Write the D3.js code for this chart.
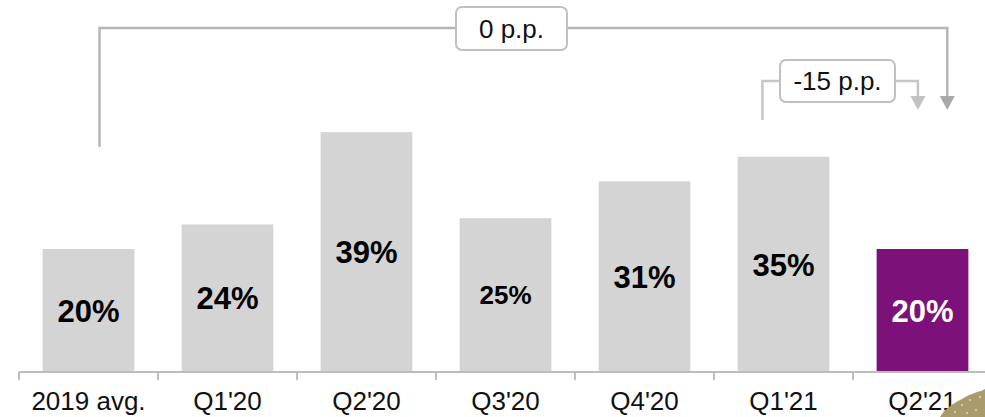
<!DOCTYPE html>
<html>
<head>
<meta charset="utf-8">
<script src="https://cdn.jsdelivr.net/npm/d3@7"></script>
<style>
  html, body { margin: 0; padding: 0; background: #ffffff; }
  svg { display: block; font-family: "Liberation Sans", Arial, sans-serif; }
</style>
</head>
<body>
<svg id="chart" width="985" height="417"></svg>
<script>
// Share by period
const categories = ["2019 avg.", "Q1'20", "Q2'20", "Q3'20", "Q4'20", "Q1'21", "Q2'21"];
const values = [20, 24, 39, 25, 31, 35, 20];
const valueLabels = ["20%", "24%", "39%", "25%", "31%", "35%", "20%"];
const highlight = "Q2'21";

// Change annotations
const changeLabels = ["0 p.p.", "-15 p.p."];

const svg = d3.select("#chart");

const x = d3.scaleBand()
  .domain(categories)
  .range([19, 992])
  .paddingInner(0.34)
  .paddingOuter(0.17);

const y = d3.scaleLinear().domain([0, 60]).range([372, 3]);

const data = categories.map((c, i) => ({ cat: c, v: values[i], label: valueLabels[i] }));

// Bars
svg.append("g").selectAll("rect")
  .data(data)
  .join("rect")
  .attr("x", d => x(d.cat))
  .attr("y", d => y(d.v))
  .attr("width", x.bandwidth())
  .attr("height", d => y(0) - y(d.v))
  .attr("fill", d => d.cat === highlight ? "#7b1179" : "#d4d4d4");

// Value labels, centred inside each bar
svg.append("g").selectAll("text")
  .data(data)
  .join("text")
  .attr("x", d => x(d.cat) + x.bandwidth() / 2)
  .attr("y", d => (y(d.v) + y(0)) / 2)
  .attr("dy", "0.36em")
  .attr("text-anchor", "middle")
  .attr("font-weight", "bold")
  .attr("font-size", d => d.cat === "Q3'20" ? 26 : 31)
  .attr("fill", d => d.cat === highlight ? "#ffffff" : "#000000")
  .text(d => d.label);

// Category axis
const axis = svg.append("g")
  .attr("transform", `translate(0,${y(0)})`)
  .call(d3.axisBottom(x).tickSize(0).tickPadding(20));
axis.select(".domain").remove();
axis.selectAll("text")
  .attr("font-size", 26)
  .attr("font-family", "Liberation Sans, Arial, sans-serif")
  .attr("fill", "#111111");

svg.append("line")
  .attr("x1", x.range()[0]).attr("x2", x.range()[1])
  .attr("y1", y(0)).attr("y2", y(0))
  .attr("stroke", "#bdbdbd").attr("stroke-width", 2);

// Separators between periods
const bounds = d3.range(categories.length).map(i => x.range()[0] + i * x.step());
svg.append("g").selectAll("line")
  .data(bounds)
  .join("line")
  .attr("x1", d => d).attr("x2", d => d)
  .attr("y1", y(0)).attr("y2", y(0) + 8)
  .attr("stroke", "#bdbdbd").attr("stroke-width", 2);

// Bracket helpers
function arrowHead(g, cx, tip, color) {
  g.append("path")
    .attr("d", `M${cx - 7.5},${tip - 14} L${cx + 7.5},${tip - 14} L${cx},${tip} Z`)
    .attr("fill", color);
}
function labelBox(g, x0, x1, y0, y1, text) {
  g.append("rect")
    .attr("x", x0).attr("y", y0)
    .attr("width", x1 - x0).attr("height", y1 - y0)
    .attr("rx", 6).attr("ry", 6)
    .attr("fill", "#ffffff")
    .attr("stroke", "#c0c0c0").attr("stroke-width", 2);
  g.append("text")
    .attr("x", (x0 + x1) / 2).attr("y", (y0 + y1) / 2)
    .attr("dy", "0.35em")
    .attr("text-anchor", "middle")
    .attr("font-size", 26)
    .attr("fill", "#111111")
    .text(text);
}

const bw = x.bandwidth();
const ann = svg.append("g").attr("fill", "none");

// 2019 avg. -> Q2'21
const bigL = x("2019 avg.") + bw * 0.62;
const bigR = x("Q2'21") + bw * 0.77;
ann.append("path")
  .attr("d", `M${bigL},147 V28 H${bigR} V97`)
  .attr("fill", "none")
  .attr("stroke", "#b6b6b6").attr("stroke-width", 2.5);
arrowHead(ann, bigR, 110, "#a9a9a9");
labelBox(ann, 456, 567, 7, 50, changeLabels[0]);

// Q1'21 -> Q2'21
const smL = x("Q1'21") + bw * 0.27;
const smR = x("Q2'21") + bw * 0.45;
ann.append("path")
  .attr("d", `M${smL},120 V81 H${smR} V97`)
  .attr("fill", "none")
  .attr("stroke", "#c6c6c6").attr("stroke-width", 2.5);
arrowHead(ann, smR, 110, "#c2c2c2");
labelBox(ann, 780, 895, 60, 102, changeLabels[1]);

// Decorative brush mark in the lower right corner
svg.append("path")
  .attr("d", "M940,417 L944,411 L949,407 L953,404 L958,401 L962,399 L967,396 L972,394 L977,392 L981,391 L985,389 L985,417 Z")
  .attr("fill", "#a99b6c");
svg.append("g").selectAll("circle")
  .data([[962, 405], [970, 400], [976, 410], [955, 412], [980, 397], [967, 413]])
  .join("circle")
  .attr("cx", d => d[0]).attr("cy", d => d[1])
  .attr("r", 0.9)
  .attr("fill", "#e8e2cf");
</script>
</body>
</html>
